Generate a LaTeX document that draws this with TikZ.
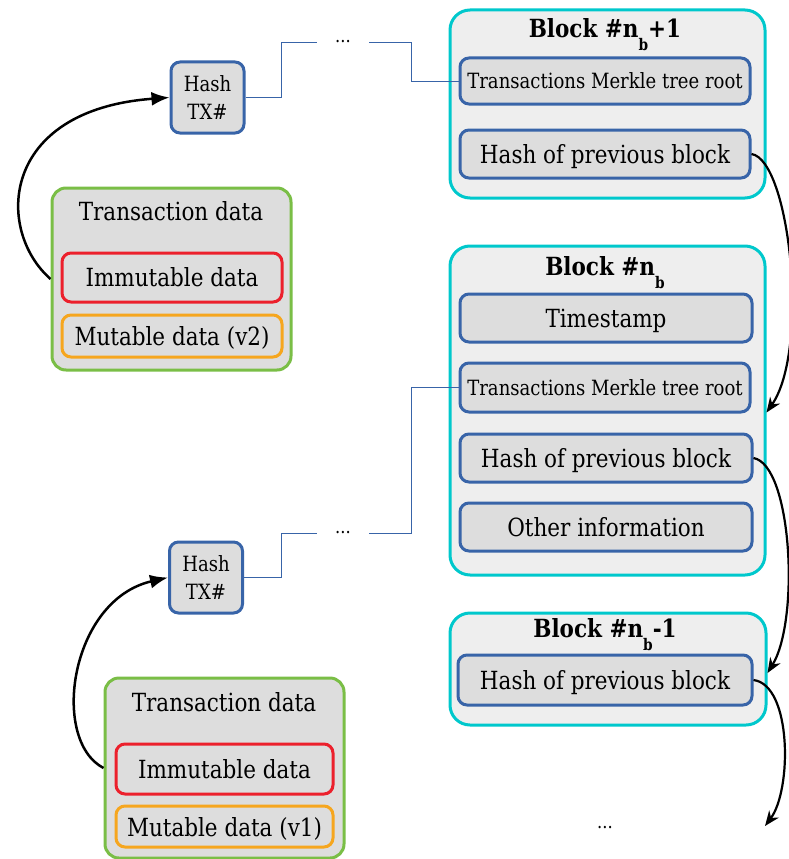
\documentclass[tikz,border=0pt]{standalone}
\usepackage{fontspec}
\setmainfont{DejaVu Serif}[FakeStretch=0.86]
\usetikzlibrary{arrows.meta}

\definecolor{blockline}{RGB}{0,200,204}
\definecolor{blockfill}{RGB}{238,238,238}
\definecolor{fieldline}{RGB}{56,100,168}
\definecolor{fieldfill}{RGB}{221,221,221}
\definecolor{txline}{RGB}{122,190,70}
\definecolor{immline}{RGB}{236,32,44}
\definecolor{mutline}{RGB}{246,166,30}

\newcommand{\nb}{n\raisebox{-1ex}{\fontsize{16}{16}\selectfont b}}

\tikzset{
  blockbox/.style={draw=blockline, fill=blockfill, line width=3pt, rounded corners=20pt},
  field/.style={draw=fieldline, fill=fieldfill, line width=3pt, rounded corners=9pt,
    inner sep=0pt, text depth=0pt, font=\fontsize{25}{28}\selectfont},
  merkle/.style={field, font=\fontsize{21}{24}\selectfont},
  blocktitle/.style={font=\bfseries\fontsize{25}{28}\selectfont, inner sep=0pt},
  txbox/.style={draw=txline, fill=fieldfill, line width=3pt, rounded corners=14pt},
  immbox/.style={draw=immline, fill=fieldfill, line width=3pt, rounded corners=9pt,
    inner sep=0pt, font=\fontsize{25}{28}\selectfont},
  mutbox/.style={draw=mutline, fill=fieldfill, line width=3pt, rounded corners=9pt,
    inner sep=0pt, text depth=0pt, font=\fontsize{25}{28}\selectfont},
  hashtx/.style={draw=fieldline, fill=fieldfill, line width=3pt, rounded corners=9pt,
    align=center, inner sep=0pt, minimum width=73pt, minimum height=71pt,
    font=\fontsize{21}{28}\selectfont},
  dots/.style={minimum width=52pt, inner sep=0pt, font=\fontsize{19}{19}\selectfont},
  link/.style={draw=fieldline, line width=0.9pt},
  hashto/.style={-{Latex[length=18pt,width=14pt]}, line width=2.5pt},
  chain/.style={-{Stealth[length=15pt,width=12pt]}, line width=2.2pt}
}

\begin{document}
\begin{tikzpicture}[x=1pt,y=-1pt]
  \useasboundingbox (0,0) rectangle (789,859);

  % blocks
  \node[blockbox, minimum width=315pt, minimum height=188pt] (blockA) at (607.5,104) {};
  \node[blocktitle] (titleA) at (605,35) {Block \#\nb+1};
  \node[merkle, minimum width=290pt, minimum height=46pt] (merkleA) at (605,81) {Transactions Merkle tree root};
  \node[field, minimum width=290pt, minimum height=48pt] (prevA) at (605,154) {Hash of previous block};

  \node[blockbox, minimum width=315pt, minimum height=329pt] (blockB) at (607.5,410.5) {};
  \node[blocktitle] (titleB) at (605,273) {Block \#\nb};
  \node[field, minimum width=292pt, minimum height=48pt] (timeB) at (606,318) {Timestamp};
  \node[merkle, minimum width=290pt, minimum height=49pt] (merkleB) at (605,387.5) {Transactions Merkle tree root};
  \node[field, minimum width=292pt, minimum height=48pt] (prevB) at (606,458) {Hash of previous block};
  \node[field, minimum width=292pt, minimum height=48pt] (otherB) at (606,527) {Other information};

  \node[blockbox, minimum width=316pt, minimum height=112pt] (blockC) at (608,669) {};
  \node[blocktitle] (titleC) at (605,635) {Block \#\nb-1};
  \node[field, minimum width=294pt, minimum height=50pt] (prevC) at (605,680) {Hash of previous block};

  \node[dots] (dotsC) at (605,828) {...};
  \coordinate (nextC) at (765,826);

  % transactions
  \node[hashtx] (htxA) at (207.5,97.5) {Hash\\TX\#};
  \node[dots] (dotsA) at (343,42) {...};
  \node[txbox, minimum width=239pt, minimum height=182pt] (txA) at (171.5,279) {};
  \node[font=\fontsize{25}{28}\selectfont] (txtitleA) at (171,211) {Transaction data};
  \node[immbox, minimum width=220pt, minimum height=49pt] (immA) at (172,277.5) {Immutable data};
  \node[mutbox, minimum width=220pt, minimum height=42pt] (mutA) at (172,336) {Mutable data (v2)};

  \node[hashtx] (htxB) at (206,577.5) {Hash\\TX\#};
  \node[dots] (dotsB) at (343,533) {...};
  \node[txbox, minimum width=239pt, minimum height=180pt] (txB) at (224.5,768) {};
  \node[font=\fontsize{25}{28}\selectfont] (txtitleB) at (224,702) {Transaction data};
  \node[immbox, minimum width=217pt, minimum height=50pt] (immB) at (224.5,769) {Immutable data};
  \node[mutbox, minimum width=217pt, minimum height=41pt] (mutB) at (224.5,826.5) {Mutable data (v1)};

  % links to merkle roots
  \draw[link] (htxA.east) -| ([xshift=-35pt]dotsA.west) -- (dotsA.west);
  \draw[link] (dotsA.east) -| ([xshift=-47pt]merkleA.west) -- (merkleA.west);
  \draw[link] (htxB.east) -| ([xshift=-35pt]dotsB.west) -- (dotsB.west);
  \draw[link] (dotsB.east) -| ([xshift=-47pt]merkleB.west) -- (merkleB.west);

  % hashing
  \draw[hashto] (txA.west) .. controls (-5,230) and (0,110) .. (htxA.west);
  \draw[hashto] (txB.west) .. controls (50,740) and (70,600) .. (htxB.west);

  % chain
  \draw[chain] (prevA.east) .. controls (790,160) and (810,350) .. ([yshift=-2pt]blockB.east);
  \draw[chain] (prevB.east) .. controls (792,465) and (800,620) .. ([yshift=-4pt]blockC.east);
  \draw[chain] (prevC.east) .. controls (792,685) and (792,790) .. (nextC);
\end{tikzpicture}
\end{document}
